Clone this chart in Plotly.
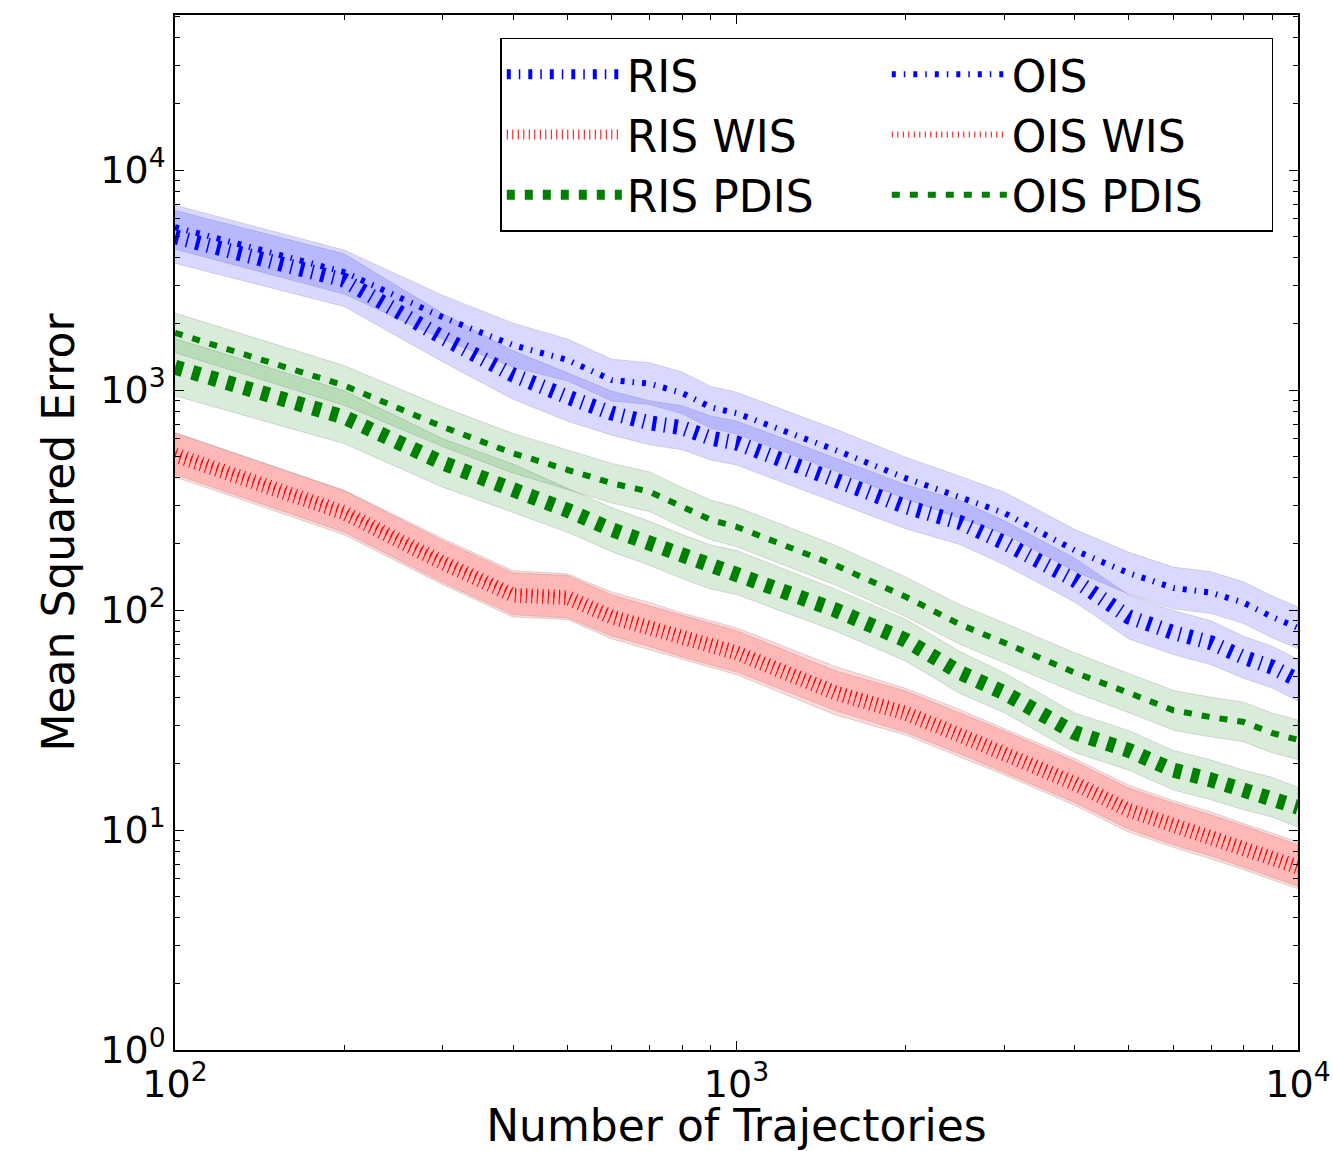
import plotly.graph_objects as go

# ---- data ----
n_traj = [100, 200, 300, 400, 500, 600, 700, 800, 900, 1000, 1500, 2000, 2500,
          3000, 4000, 5000, 6000, 7000, 8000, 9000, 10000]

ris = [4970, 3160, 1730, 1170, 930, 785, 710, 674, 605, 575, 390, 295, 250,
       202, 137, 93, 79, 71, 61, 55, 48]
ois = [5500, 3440, 2140, 1600, 1370, 1110, 1070, 970, 835, 785, 534, 398, 326,
       276, 187, 147, 126, 120, 108, 93, 83]
ris_wis = [507, 277, 164, 117, 114, 93, 83, 75, 69, 64, 42, 34, 27,
           22.4, 16.3, 12.3, 10.5, 9.3, 8.3, 7.5, 6.8]
ois_wis = [515, 282, 168, 120, 116, 96, 86, 77, 71, 66, 44, 35, 28,
           23, 16.8, 12.7, 10.8, 9.6, 8.5, 7.7, 7.0]
ris_pdis = [1270, 753, 466, 358, 284, 232, 201, 175, 157, 148, 100, 73, 52,
            42, 27.7, 23, 18.7, 16.9, 15.2, 14.1, 12.7]
ois_pdis = [1820, 1050, 680, 516, 434, 377, 345, 293, 257, 239, 160, 115, 86,
            71, 52, 42, 35, 32.6, 31, 27.6, 25.7]

# half-width of the shaded bands, in decades
ris_band = [0.12, 0.12, 0.11, 0.11, 0.11, 0.10, 0.10, 0.10, 0.10, 0.10, 0.10, 0.10, 0.10,
            0.10, 0.10, 0.10, 0.10, 0.10, 0.095, 0.095, 0.095]
ois_band = [0.10, 0.10, 0.10, 0.10, 0.095, 0.095, 0.095, 0.095, 0.095, 0.095, 0.095, 0.095, 0.095,
            0.095, 0.095, 0.095, 0.095, 0.095, 0.095, 0.095, 0.095]
ris_wis_band = [0.10, 0.10, 0.10, 0.10, 0.10, 0.10, 0.10, 0.10, 0.10, 0.10, 0.10, 0.10, 0.10,
                0.10, 0.10, 0.10, 0.10, 0.10, 0.10, 0.10, 0.10]
ois_wis_band = [0.095, 0.095, 0.10, 0.10, 0.10, 0.10, 0.10, 0.10, 0.10, 0.10, 0.10, 0.10, 0.10,
                0.10, 0.10, 0.10, 0.10, 0.10, 0.10, 0.10, 0.10]
ris_pdis_band = [0.13, 0.12, 0.11, 0.11, 0.10, 0.10, 0.10, 0.10, 0.10, 0.10, 0.095, 0.095, 0.095,
                 0.09, 0.09, 0.09, 0.09, 0.09, 0.09, 0.09, 0.09]
ois_pdis_band = [0.09, 0.09, 0.09, 0.09, 0.09, 0.09, 0.09, 0.09, 0.09, 0.09, 0.09, 0.09, 0.09,
                 0.09, 0.09, 0.09, 0.09, 0.09, 0.09, 0.09, 0.09]

x_tick_vals = [100, 1000, 10000]
x_tick_text = ["10<sup>2</sup>", "10<sup>3</sup>", "10<sup>4</sup>"]
y_tick_vals = [1, 10, 100, 1000, 10000]
y_tick_text = ["10<sup>0</sup>", "10<sup>1</sup>", "10<sup>2</sup>", "10<sup>3</sup>", "10<sup>4</sup>"]

series = [
    # name, values, band, line colour, fill colour, width, dash
    ("RIS", ris, ris_band, "#0000ff", "rgba(0,0,255,0.15)", 15, "4px,8px,1.5px,8px"),
    ("OIS", ois, ois_band, "#0000ff", "rgba(0,0,255,0.15)", 6, "4px,8px,1.5px,8px"),
    ("RIS WIS", ris_wis, ris_wis_band, "#ff0000", "rgba(255,0,0,0.15)", 15, "1px,4.5px"),
    ("OIS WIS", ois_wis, ois_wis_band, "#ff0000", "rgba(255,0,0,0.15)", 6, "1px,4.5px"),
    ("RIS PDIS", ris_pdis, ris_pdis_band, "#008000", "rgba(0,128,0,0.15)", 15, "8px,10px"),
    ("OIS PDIS", ois_pdis, ois_pdis_band, "#008000", "rgba(0,128,0,0.15)", 6, "8px,10px"),
]

fig = go.Figure()

# shaded bands
for name, vals, band, col, fcol, w, dash in series:
    upper = [v * 10 ** b for v, b in zip(vals, band)]
    lower = [v / 10 ** b for v, b in zip(vals, band)]
    fig.add_trace(go.Scatter(
        x=n_traj + n_traj[::-1], y=upper + lower[::-1],
        fill="toself", fillcolor=fcol, mode="lines",
        line=dict(color="rgba(120,120,120,0.25)", width=1),
        hoverinfo="skip", showlegend=False))

# mean lines
for name, vals, band, col, fcol, w, dash in series:
    fig.add_trace(go.Scatter(
        x=n_traj, y=vals, mode="lines", name=name,
        line=dict(color=col, width=w, dash=dash)))

minor_x = [m * 10 ** e for e in (2, 3) for m in range(2, 10)]
minor_y = [m * 10 ** e for e in range(0, 5) for m in range(2, 10)]

axis_common = dict(
    showline=True, linecolor="black", linewidth=1.5, mirror="allticks",
    ticks="inside", ticklen=9, tickwidth=1, tickcolor="black",
    showgrid=False, zeroline=False, automargin=False,
    tickfont=dict(family="DejaVu Sans", size=38, color="black"),
)

fig.update_xaxes(
    type="log", range=[2, 4],
    tickvals=x_tick_vals, ticktext=x_tick_text,
    minor=dict(tickvals=minor_x, ticks="inside", ticklen=5, tickcolor="black", showgrid=False),
    title=dict(text="Number of Trajectories",
               font=dict(family="DejaVu Sans", size=44, color="black"), standoff=8),
    **axis_common)
fig.update_yaxes(
    type="log", range=[0, 4.705],
    tickvals=y_tick_vals, ticktext=y_tick_text,
    minor=dict(tickvals=minor_y, ticks="inside", ticklen=5, tickcolor="black", showgrid=False),
    title=dict(text="Mean Squared Error",
               font=dict(family="DejaVu Sans", size=44, color="black"), standoff=12),
    **axis_common)

fig.update_layout(
    width=1333, height=1151,
    margin=dict(l=175, r=35, t=15, b=101),
    paper_bgcolor="white", plot_bgcolor="white",
    font=dict(family="DejaVu Sans", color="black"),
    legend=dict(
        orientation="h", x=0.978, xanchor="right", y=0.978, yanchor="top",
        entrywidth=255, entrywidthmode="pixels", itemwidth=115,
        bgcolor="white", bordercolor="black", borderwidth=1.5,
        font=dict(family="DejaVu Sans", size=44, color="black"),
    ),
)

fig.write_html("out.html")
